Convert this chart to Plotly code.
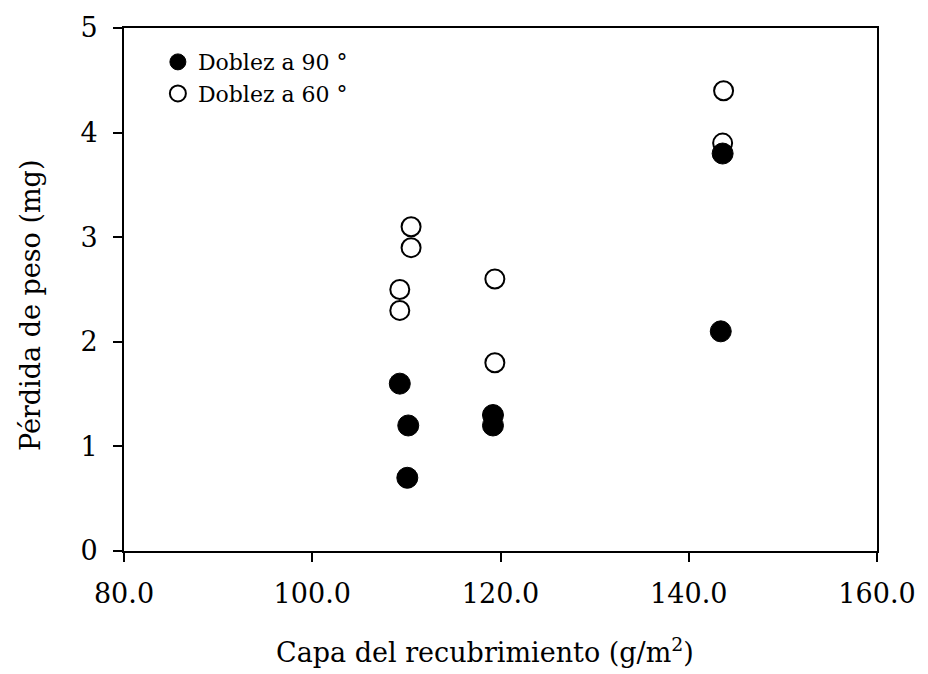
import plotly.graph_objects as go

# Coating weight (g/m^2) and weight loss (mg) for each bend angle
capa_90 = [109.3, 110.2, 110.1, 119.2, 119.2, 143.4, 143.6]
perdida_90 = [1.6, 1.2, 0.7, 1.3, 1.2, 2.1, 3.8]

capa_60 = [110.5, 110.5, 109.3, 109.3, 119.4, 119.4, 143.7, 143.6]
perdida_60 = [3.1, 2.9, 2.5, 2.3, 2.6, 1.8, 4.4, 3.9]

x_ticks = [80, 100, 120, 140, 160]
y_ticks = [0, 1, 2, 3, 4, 5]

FONT = "DejaVu Serif"

fig = go.Figure()

# open circles first so the filled markers sit on top
fig.add_trace(go.Scatter(
    x=capa_60, y=perdida_60, mode="markers", name="Doblez a 60 °",
    legendrank=2,
    marker=dict(symbol="circle", size=19, color="white",
                line=dict(color="black", width=2)),
))
fig.add_trace(go.Scatter(
    x=capa_90, y=perdida_90, mode="markers", name="Doblez a 90 °",
    legendrank=1,
    marker=dict(symbol="circle", size=21, color="black",
                line=dict(color="black", width=1)),
))

axis_common = dict(
    showline=True, linecolor="black", linewidth=2, mirror=True,
    ticks="outside", ticklen=9, tickwidth=1.5, tickcolor="black",
    showgrid=False, zeroline=False,
    tickfont=dict(family=FONT, size=27, color="black"),
)

fig.update_xaxes(range=[80, 160], tickvals=x_ticks, tickformat=".1f",
                 ticklabelstandoff=9, **axis_common)
fig.update_yaxes(range=[0, 5], tickvals=y_ticks,
                 ticklabelstandoff=10, **axis_common)

fig.add_annotation(
    text="Capa del recubrimiento (g/m<sup>2</sup>)",
    xref="paper", yref="paper", x=0.48, y=-0.19,
    xanchor="center", yanchor="middle", showarrow=False,
    font=dict(family=FONT, size=27, color="black"),
)
fig.add_annotation(
    text="Pérdida de peso (mg)",
    xref="paper", yref="paper", x=-0.125, y=0.47,
    xanchor="center", yanchor="middle", textangle=-90, showarrow=False,
    font=dict(family=FONT, size=27, color="black"),
)

fig.update_layout(
    width=928, height=674,
    margin=dict(l=124, r=42, t=24, b=123),
    paper_bgcolor="white", plot_bgcolor="white",
    showlegend=True,
    legend=dict(
        x=0.045, y=0.975, xanchor="left", yanchor="top",
        traceorder="normal",
        font=dict(family=FONT, size=22, color="black"),
        bgcolor="rgba(0,0,0,0)", borderwidth=0,
    ),
)

fig.write_html("out.html")
